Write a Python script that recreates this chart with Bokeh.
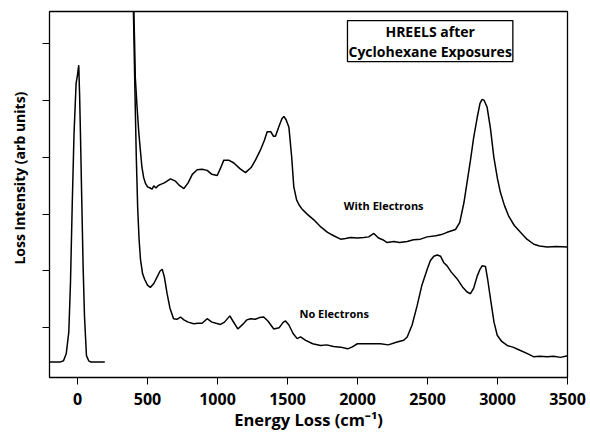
from bokeh.plotting import figure
from bokeh.models import Label, FixedTicker, Range1d
from bokeh.embed import file_html
from bokeh.resources import INLINE

# Elastic peak
elastic_x = [-200, -120, -100, -80, -62, -50, -38, -25, -10, 0, 5, 9, 15, 21, 30, 40, 50, 64, 80, 93, 150, 195]
elastic_y = [0.40, 0.40, 0.42, 0.55, 0.93, 1.8, 3.13, 4.4, 5.3, 5.45, 5.55, 5.62, 5.1, 4.43, 3.3, 2.09, 1.2, 0.51, 0.42, 0.40, 0.40, 0.40]

# No Electrons spectrum
no_e_x = [392, 400, 410, 420, 430, 440, 450, 465, 480, 500, 520, 545, 570, 590, 605, 620, 640, 660, 686, 710,
          736, 760, 790, 830, 860, 890, 926, 960, 990, 1021, 1050, 1088, 1110, 1145, 1180, 1210, 1236, 1270, 1300, 1330,
          1360, 1402, 1440, 1470, 1486, 1510, 1540, 1569, 1593, 1630, 1680, 1736, 1780, 1829, 1880, 1929, 1960, 2000, 2080, 2164,
          2220, 2283, 2330, 2355, 2390, 2426, 2460, 2498, 2520, 2545, 2570, 2593, 2615, 2640, 2670, 2712, 2750, 2783, 2807, 2830,
          2855, 2875, 2890, 2914, 2930, 2950, 2975, 2998, 3030, 3069, 3110, 3164, 3210, 3260, 3300, 3355, 3400, 3450, 3500]
no_e_y = [7.5, 6.5, 5.2, 4.0, 3.1, 2.55, 2.2, 1.95, 1.85, 1.75, 1.71, 1.78, 1.9, 2.0, 2.03, 1.9, 1.6, 1.35, 1.16, 1.15,
          1.19, 1.14, 1.1, 1.07, 1.08, 1.08, 1.16, 1.1, 1.08, 1.06, 1.1, 1.21, 1.12, 0.98, 1.06, 1.14, 1.16, 1.15, 1.18, 1.19,
          1.12, 0.98, 1.0, 1.1, 1.12, 1.05, 0.9, 0.81, 0.84, 0.78, 0.72, 0.69, 0.7, 0.67, 0.66, 0.63, 0.66, 0.72, 0.72, 0.72,
          0.7, 0.75, 0.78, 0.84, 1.05, 1.39, 1.75, 2.03, 2.18, 2.26, 2.28, 2.26, 2.15, 2.09, 1.98, 1.86, 1.72, 1.63, 1.6, 1.7,
          1.91, 2.03, 2.09, 2.08, 1.85, 1.51, 1.1, 0.87, 0.76, 0.69, 0.66, 0.6, 0.55, 0.49, 0.5, 0.49, 0.5, 0.48, 0.51]

# With Electrons spectrum
with_e_x = [392, 400, 408, 413, 425, 438, 450, 460, 472, 484, 500, 519, 533, 545, 560, 575, 590, 620, 664, 700,
            730, 760, 790, 820, 855, 890, 926, 960, 998, 1020, 1045, 1080, 1117, 1160, 1200, 1240, 1271, 1307, 1335, 1355,
            1380, 1400, 1414, 1440, 1460, 1474, 1490, 1510, 1530, 1545, 1565, 1581, 1600, 1640, 1688, 1740, 1786, 1830, 1879, 1915,
            1950, 2000, 2045, 2080, 2117, 2150, 2180, 2212, 2260, 2300, 2355, 2400, 2450, 2498, 2560, 2600, 2640, 2700, 2730, 2760,
            2785, 2807, 2830, 2855, 2875, 2890, 2905, 2926, 2950, 2974, 3000, 3021, 3050, 3081, 3120, 3164, 3210, 3260, 3300, 3355,
            3420, 3500]
with_e_y = [7.5, 6.8, 6.0, 5.4, 4.9, 4.43, 4.1, 3.83, 3.65, 3.55, 3.48, 3.46, 3.44, 3.5, 3.46, 3.5, 3.52, 3.55, 3.62, 3.58,
            3.5, 3.45, 3.55, 3.7, 3.78, 3.79, 3.77, 3.7, 3.68, 3.8, 3.95, 3.95, 3.9, 3.8, 3.73, 3.82, 3.95, 4.13, 4.3, 4.45,
            4.45, 4.37, 4.37, 4.55, 4.68, 4.72, 4.66, 4.53, 4.0, 3.48, 3.25, 3.17, 3.1, 3.0, 2.9, 2.77, 2.68, 2.62, 2.56, 2.57,
            2.59, 2.58, 2.59, 2.6, 2.66, 2.58, 2.55, 2.5, 2.52, 2.5, 2.52, 2.55, 2.56, 2.6, 2.62, 2.64, 2.68, 2.73, 2.85, 3.2,
            3.6, 3.95, 4.35, 4.7, 4.95, 5.02, 5.0, 4.88, 4.5, 4.0, 3.62, 3.38, 3.15, 2.96, 2.8, 2.68, 2.56, 2.47, 2.44, 2.42,
            2.43, 2.42]

x_ticks = [0, 500, 1000, 1500, 2000, 2500, 3000, 3500]
y_ticks = [1, 2, 3, 4, 5, 6]

FONT = "Open Sans"

p = figure(width=590, height=433, output_backend="svg", toolbar_location=None,
           x_range=Range1d(-200, 3500), y_range=Range1d(0.126, 6.565),
           min_border_left=49, min_border_right=23, min_border_top=11, min_border_bottom=54)

p.grid.visible = False
p.outline_line_color = "black"
p.outline_line_width = 1.3
p.background_fill_color = "white"
p.border_fill_color = "white"

p.line(elastic_x, elastic_y, line_color="black", line_width=1.5)
p.line(no_e_x, no_e_y, line_color="black", line_width=1.5)
p.line(with_e_x, with_e_y, line_color="black", line_width=1.5)

xa = p.xaxis[0]
xa.ticker = FixedTicker(ticks=x_ticks)
xa.major_tick_out = 7
xa.major_tick_in = 0
xa.minor_tick_out = 0
xa.minor_tick_in = 0
xa.axis_line_color = None
xa.major_tick_line_color = "black"
xa.major_label_text_font = FONT
xa.major_label_text_font_style = "bold"
xa.major_label_text_font_size = "16px"
xa.major_label_text_color = "black"
xa.major_label_standoff = 8
xa.axis_label = "Energy Loss (cm\u207b\u00b9)"
xa.axis_label_text_font = FONT
xa.axis_label_text_font_style = "bold"
xa.axis_label_text_font_size = "16.5px"
xa.axis_label_text_color = "black"
xa.axis_label_standoff = 0

ya = p.yaxis[0]
ya.ticker = FixedTicker(ticks=y_ticks)
ya.major_tick_out = 7
ya.major_tick_in = 0
ya.minor_tick_out = 0
ya.minor_tick_in = 0
ya.axis_line_color = None
ya.major_label_overrides = {t: "" for t in y_ticks}
ya.major_label_standoff = 0
# leading no-break spaces lift the title a little above the frame centre, as in the original
ya.axis_label = "\u00a0" * 10 + "Loss Intensity (arb  units)"
ya.axis_label_text_font = FONT
ya.axis_label_text_font_style = "bold"
ya.axis_label_text_font_size = "14px"
ya.axis_label_text_color = "black"
ya.axis_label_standoff = 14

p.add_layout(Label(x=2519, y=6.045, text="HREELS after\nCyclohexane Exposures",
                   text_align="center", text_baseline="middle", text_line_height=1.05,
                   text_font=FONT, text_font_style="bold", text_font_size="14px", text_color="black",
                   border_line_color="black", border_line_width=1.3, background_fill_color="white",
                   padding=1))
p.add_layout(Label(x=2187, y=3.15, text="With Electrons", text_align="center", text_baseline="middle",
                   text_font=FONT, text_font_style="bold", text_font_size="11px", text_color="black"))
p.add_layout(Label(x=1834, y=1.25, text="No Electrons", text_align="center", text_baseline="middle",
                   text_font=FONT, text_font_style="bold", text_font_size="11px", text_color="black"))

open("out.html", "w").write(file_html(p, INLINE))
